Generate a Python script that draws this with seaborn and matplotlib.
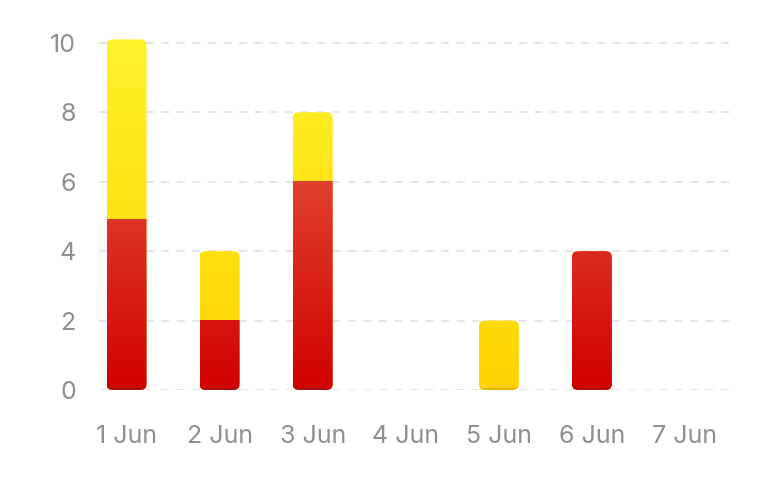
import matplotlib
matplotlib.use("Agg")
import matplotlib.pyplot as plt
import numpy as np
import pandas as pd
import seaborn as sns
from matplotlib.patches import FancyBboxPatch
from matplotlib.colors import to_rgb
from matplotlib.transforms import IdentityTransform

# Data
days = ['1 Jun', '2 Jun', '3 Jun', '4 Jun', '5 Jun', '6 Jun', '7 Jun']
red_vals = [4.9, 2, 6, 0, 0, 4, 0]
yellow_vals = [5.2, 2, 2, 0, 2, 0, 0]
y_ticks = [0, 2, 4, 6, 8, 10]

df = pd.DataFrame({'day': days, 'red': red_vals, 'yellow': yellow_vals})
df['total'] = df['red'] + df['yellow']

sns.set_style('white')
plt.rcParams['font.family'] = ['Inter', 'DejaVu Sans']

fig = plt.figure(figsize=(7.64, 4.78), dpi=100)
ax = fig.add_axes([80 / 764, 88 / 478, 651.5 / 764, 361 / 478])

bar_w = 0.43
sns.barplot(data=df, x='day', y='total', color='#ffd800', width=bar_w, ax=ax)
sns.barplot(data=df, x='day', y='red', color='#d00000', width=bar_w, ax=ax)

ymax = 10.4
ax.set_xlim(-0.5, 6.5)
ax.set_ylim(0, ymax)

# dashed grid lines
ax.hlines(y_ticks, -0.3, 6.5, colors='#e5e5ea', linewidth=1.4,
          linestyles=(0, (4.1, 3.9)), zorder=0)


def gradient(top, c0, c1, y1, dark):
    # vertical gradient tied to absolute y value, dark rim at the bottom
    ys = np.linspace(0, top, 400)
    c0 = np.array(to_rgb(c0))
    c1 = np.array(to_rgb(c1))
    t = np.clip(ys / y1, 0, 1)[:, None]
    img = c0 + (c1 - c0) * t
    img[ys < 0.065] = to_rgb(dark)
    return img[:, None, :]


fig.canvas.draw()

n = len(days)
total_patches = ax.patches[:n]
red_patches = ax.patches[n:2 * n]
for tp, rp in zip(total_patches, red_patches):
    tp.set_visible(False)
    rp.set_visible(False)
    x0 = tp.get_x()
    w = tp.get_width()
    total = tp.get_height()
    red = rp.get_height()
    if total <= 0:
        continue
    # rounded outline of the whole stack, built in pixel space
    xa, ya = ax.transData.transform((x0, 0))
    xb, yb = ax.transData.transform((x0 + w, total))
    clip = FancyBboxPatch((xa, ya), xb - xa, yb - ya,
                          boxstyle='round,pad=0,rounding_size=6',
                          transform=IdentityTransform())
    ylw = gradient(total, '#ffd300', '#fff22a', 10, '#e9b800')
    im = ax.imshow(ylw, extent=[x0, x0 + w, 0, total], origin='lower',
                   aspect='auto', interpolation='bilinear', zorder=2)
    im.set_clip_path(clip)
    if red > 0:
        rd = gradient(red, '#d00000', '#e0402e', 6, '#b01010')
        im2 = ax.imshow(rd, extent=[x0, x0 + w, 0, red], origin='lower',
                        aspect='auto', interpolation='bilinear', zorder=3)
        im2.set_clip_path(clip)

ax.set_xlim(-0.5, 6.5)
ax.set_ylim(0, ymax)
ax.set_yticks(y_ticks)
ax.set_xlabel('')
ax.set_ylabel('')
ax.tick_params(axis='both', length=0, labelcolor='#8e8e93', labelsize=18)
ax.tick_params(axis='y', pad=3)
ax.tick_params(axis='x', pad=25)
sns.despine(ax=ax, left=True, bottom=True)

fig.savefig('out.png', dpi=100)
